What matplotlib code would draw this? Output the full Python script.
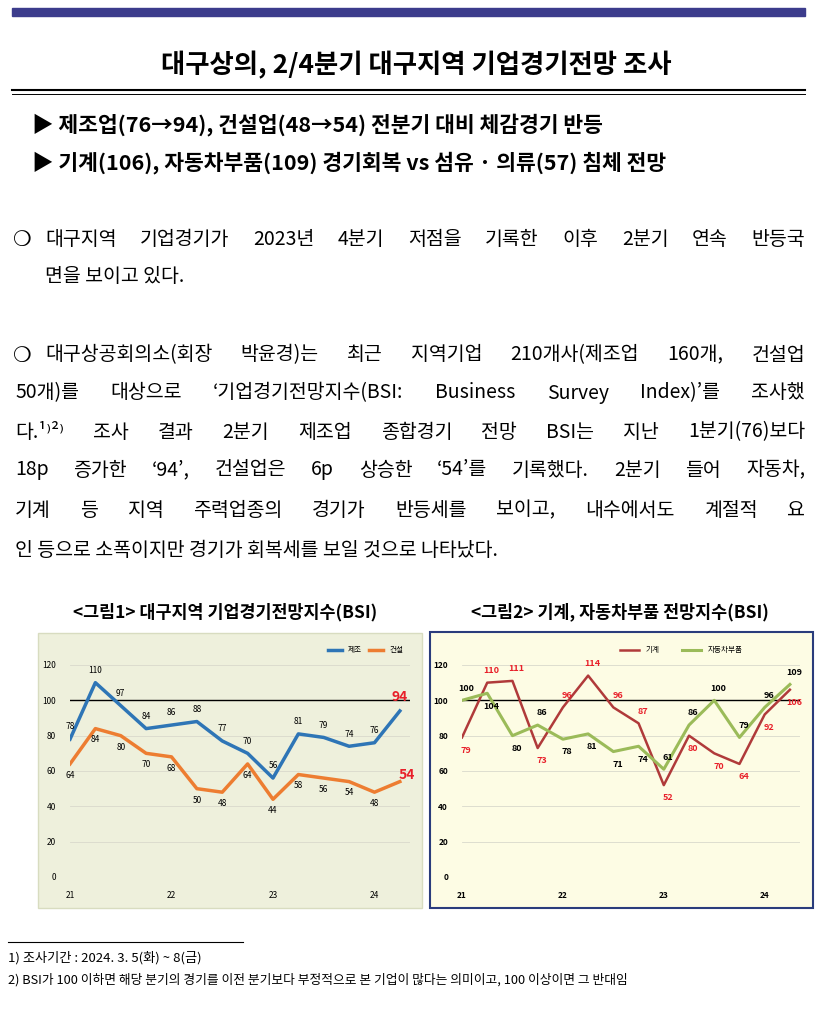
import matplotlib.pyplot as plt
import numpy as np

plt.rcParams['font.family'] = ['Noto Sans CJK KR', 'DejaVu Sans']

# -----------------------------
# Data
# -----------------------------
quarters = list(range(14))
year_ticks = [0, 4, 8, 12]
year_labels = ["21", "22", "23", "24"]

mfg = [78, 110, 97, 84, 86, 88, 77, 70, 56, 81, 79, 74, 76, 94]
cons = [64, 84, 80, 70, 68, 50, 48, 64, 44, 58, 56, 54, 48, 54]
machine = [79, 110, 111, 73, 96, 114, 96, 87, 52, 80, 70, 64, 92, 106]
auto = [100, 104, 80, 86, 78, 81, 71, 74, 61, 86, 100, 79, 96, 109]

W, H = 833, 1015
fig = plt.figure(figsize=(W / 100, H / 100), dpi=100)
renderer = fig.canvas.get_renderer()


def fx(x):
    return x / W


def fy(y):
    return 1 - y / H


def txt(x, y, s, **kw):
    return fig.text(fx(x), fy(y), s, va="center", **kw)


def justified(x0, x1, y, s, size):
    # spread words so the line fills x0..x1, like the justified source text
    words = s.split(" ")
    arts = [txt(x0, y, w, fontsize=size) for w in words]
    widths = [a.get_window_extent(renderer).width for a in arts]
    gap = (x1 - x0 - sum(widths)) / max(len(words) - 1, 1)
    x = x0
    for a, w in zip(arts, widths):
        a.set_x(fx(x))
        x += w + gap


# -----------------------------
# Header
# -----------------------------
fig.add_artist(plt.Rectangle((fx(12), fy(16)), fx(793), 8 / H, color="#3c3c8c", transform=fig.transFigure))
txt(416, 65, "대구상의, 2/4분기 대구지역 기업경기전망 조사", ha="center", fontsize=19, fontweight="bold")
fig.add_artist(plt.Line2D([fx(12), fx(805)], [fy(90), fy(90)], color="black", lw=1.5, transform=fig.transFigure))
fig.add_artist(plt.Line2D([fx(12), fx(805)], [fy(94), fy(94)], color="black", lw=0.7, transform=fig.transFigure))
txt(32, 125, "▶ 제조업(76→94), 건설업(48→54) 전분기 대비 체감경기 반등", fontsize=15.5, fontweight="bold")
txt(32, 163, "▶ 기계(106), 자동차부품(109) 경기회복 vs 섬유 · 의류(57) 침체 전망", fontsize=15.5, fontweight="bold")

# -----------------------------
# Body
# -----------------------------
fs = 14
txt(13, 240, "❍", fontsize=15, fontweight="bold")
justified(45, 805, 240, "대구지역 기업경기가 2023년 4분기 저점을 기록한 이후 2분기 연속 반등국", fs)
txt(45, 277, "면을 보이고 있다.", fontsize=fs)
txt(13, 355, "❍", fontsize=15, fontweight="bold")
justified(45, 805, 355, "대구상공회의소(회장 박윤경)는 최근 지역기업 210개사(제조업 160개, 건설업", fs)
justified(15, 805, 393, "50개)를 대상으로 ‘기업경기전망지수(BSI: Business Survey Index)’를 조사했", fs)
justified(15, 805, 432, "다.¹⁾²⁾ 조사 결과 2분기 제조업 종합경기 전망 BSI는 지난 1분기(76)보다", fs)
justified(15, 805, 470, "18p 증가한 ‘94’, 건설업은 6p 상승한 ‘54’를 기록했다. 2분기 들어 자동차,", fs)
justified(15, 805, 510, "기계 등 지역 주력업종의 경기가 반등세를 보이고, 내수에서도 계절적 요", fs)
txt(15, 550, "인 등으로 소폭이지만 경기가 회복세를 보일 것으로 나타났다.", fontsize=fs)

txt(225, 612, "<그림1> 대구지역 기업경기전망지수(BSI)", ha="center", fontsize=12.5, fontweight="bold")
txt(620, 612, "<그림2> 기계, 자동차부품 전망지수(BSI)", ha="center", fontsize=12.5, fontweight="bold")

# chart backgrounds
fig.add_artist(plt.Rectangle((fx(38), fy(908)), fx(384), 275 / H, facecolor="#eef0dc",
                             edgecolor="#d8dcc0", transform=fig.transFigure, zorder=0))
fig.add_artist(plt.Rectangle((fx(430), fy(908)), fx(383), 276 / H, facecolor="#fdfce4",
                             edgecolor="#2a3c7c", lw=1.5, transform=fig.transFigure, zorder=0))


def make_ax(x0, x1):
    ax = fig.add_axes([fx(x0), fy(877), fx(x1 - x0), (877 - 665) / H])
    ax.set_facecolor("none")
    ax.set_xlim(0, 13.4)
    ax.set_ylim(0, 120)
    ax.set_yticks(range(0, 121, 20))
    for v in range(20, 121, 20):
        ax.axhline(v, color="#d9d9cc", lw=0.6, zorder=0)
    ax.axhline(100, color="black", lw=1, zorder=1)
    ax.axhline(0, color="#b0b0b0", lw=0.6)
    ax.set_xticks(year_ticks)
    ax.set_xticklabels(year_labels, fontsize=6)
    ax.tick_params(length=0, labelsize=6, pad=10)
    for s in ax.spines.values():
        s.set_visible(False)
    return ax


# Chart 1
ax1 = make_ax(70, 410)
ax1.plot(quarters, mfg, color="#2e75b6", lw=2.5, label="제조")
ax1.plot(quarters, cons, color="#ed7d31", lw=2.5, label="건설")
for i, (a, b) in enumerate(zip(mfg, cons)):
    if i == 13:
        continue
    ax1.annotate(str(a), (i, a), textcoords="offset points", xytext=(0, 7), ha="center", fontsize=6)
    ax1.annotate(str(b), (i, b), textcoords="offset points", xytext=(0, -10), ha="center", fontsize=6)
ax1.annotate(str(mfg[-1]), (13, mfg[-1]), textcoords="offset points", xytext=(0, 7), ha="center",
             fontsize=10, color="#e8202a", fontweight="bold")
ax1.annotate(str(cons[-1]), (13, cons[-1]), textcoords="offset points", xytext=(5, 2), ha="center",
             fontsize=10, color="#e8202a", fontweight="bold")
ax1.legend(loc="upper right", bbox_to_anchor=(1.0, 1.12), ncol=2, fontsize=5.5, frameon=False,
           handlelength=1.8, columnspacing=1)

# Chart 2
ax2 = make_ax(462, 800)
ax2.set_yticklabels([str(v) for v in range(0, 121, 20)], fontsize=6, fontweight="bold")
ax2.set_xticklabels(year_labels, fontsize=6, fontweight="bold")
ax2.plot(quarters, machine, color="#b03a3a", lw=1.8, label="기계")
ax2.plot(quarters, auto, color="#9bbb59", lw=2.2, label="자동차부품")
for i, (a, b) in enumerate(zip(machine, auto)):
    up_m = a >= b
    ax2.annotate(str(a), (i, a), textcoords="offset points", xytext=(3, 7 if up_m else -11),
                 ha="center", fontsize=6.5, color="#e8202a", fontweight="bold")
    ax2.annotate(str(b), (i, b), textcoords="offset points", xytext=(3, -11 if up_m else 7),
                 ha="center", fontsize=6.5, color="black", fontweight="bold")
ax2.legend(loc="upper right", bbox_to_anchor=(0.85, 1.12), ncol=2, fontsize=5.5, frameon=False,
           handlelength=2.5, columnspacing=3)

# -----------------------------
# Footnotes
# -----------------------------
fig.add_artist(plt.Line2D([fx(8), fx(243)], [fy(942), fy(942)], color="black", lw=0.8, transform=fig.transFigure))
txt(8, 958, "1) 조사기간 : 2024. 3. 5(화) ~ 8(금)", fontsize=9.5)
txt(8, 980, "2) BSI가 100 이하면 해당 분기의 경기를 이전 분기보다 부정적으로 본 기업이 많다는 의미이고, 100 이상이면 그 반대임",
    fontsize=9.2)

fig.savefig("out.png", dpi=100)
